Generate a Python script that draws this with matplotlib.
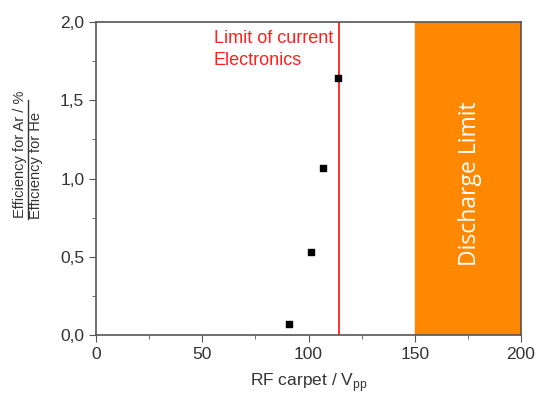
import matplotlib
matplotlib.use('Agg')
import matplotlib.pyplot as plt
from matplotlib.lines import Line2D
from matplotlib.ticker import MultipleLocator, FuncFormatter

plt.rcParams['font.family'] = ['Liberation Sans', 'DejaVu Sans']
plt.rcParams['mathtext.fontset'] = 'custom'
plt.rcParams['mathtext.rm'] = 'Liberation Sans'

# data
rf_carpet = [91, 101, 107, 114]
efficiency = [0.07, 0.53, 1.07, 1.64]
electronics_limit = 114.3
discharge_range = [150, 200]

W, H = 537, 396
fig = plt.figure(figsize=(W / 100, H / 100), dpi=100)
ax = fig.add_axes([0.179, 0.154, 0.791, 0.79])

ax.axvspan(discharge_range[0], discharge_range[1], color='#ff8800', zorder=1)
ax.axvline(electronics_limit, color='#ff2020', lw=1.3, zorder=2)
ax.scatter(rf_carpet, efficiency, marker='s', s=24, color='black', zorder=3)

ax.text(176, 0.97, 'Discharge Limit', rotation=90, color='white', fontsize=16.5,
        family=['Open Sans', 'DejaVu Sans'], ha='center', va='center', zorder=4)
ax.text(55.5, 1.95, 'Limit of current\nElectronics', color='#ff2020', fontsize=13,
        ha='left', va='top', linespacing=1.35)

ax.set_xlim(0, 200)
ax.set_ylim(0, 2.0)
ax.xaxis.set_major_locator(MultipleLocator(50))
ax.xaxis.set_minor_locator(MultipleLocator(25))
ax.yaxis.set_major_locator(MultipleLocator(0.5))
ax.yaxis.set_minor_locator(MultipleLocator(0.25))
ax.yaxis.set_major_formatter(FuncFormatter(lambda v, p: ('%.1f' % v).replace('.', ',')))
ax.tick_params(which='both', direction='out', colors='#555555', labelcolor='#333333', labelsize=12.5)
ax.tick_params(which='major', length=5)
ax.tick_params(which='minor', length=3)
for s in ax.spines.values():
    s.set_color('#555555')
    s.set_linewidth(1.2)

ax.set_xlabel(r'RF carpet / V$_{\mathrm{pp}}$', fontsize=12.5, color='#333333', labelpad=7)

# y label drawn as a fraction: numerator over a line over denominator
fig.text(26.5 / W, 1 - 218 / H, 'Efficiency for Ar / %', rotation=90, rotation_mode='anchor',
         ha='left', va='bottom', fontsize=10.5, color='#333333')
fig.text(29 / W, 1 - 219 / H, 'Efficiency for He', rotation=90, rotation_mode='anchor',
         ha='left', va='top', fontsize=10.5, color='#333333')
fig.add_artist(Line2D([28 / W, 28 / W], [1 - 219 / H, 1 - 100 / H], transform=fig.transFigure,
                      color='#333333', lw=1.0))

fig.savefig('out.png', dpi=100)
